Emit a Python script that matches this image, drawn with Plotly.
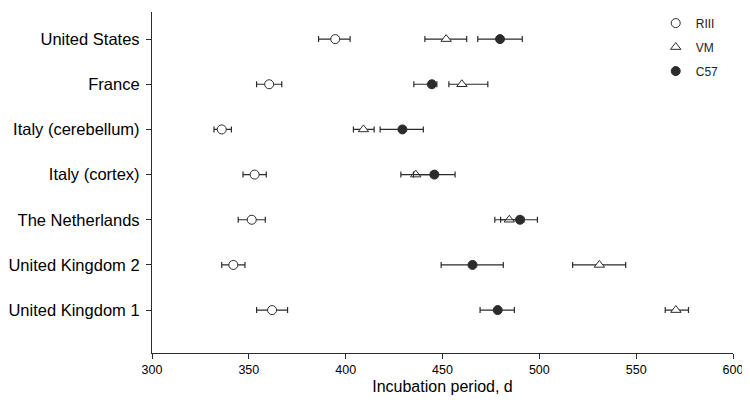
import plotly.graph_objects as go

# rows from bottom to top
countries = ['United Kingdom 1', 'United Kingdom 2', 'The Netherlands', 'Italy (cortex)',
             'Italy (cerebellum)', 'France', 'United States']
row_pos = [1, 2, 3, 4, 5, 6, 7]

riii_mean = [362, 342, 351.5, 353, 336, 360.5, 394.6]
riii_low = [354, 336, 344.5, 347, 332, 354, 386.0]
riii_high = [370, 348, 358.5, 359, 341, 367, 402.3]

vm_mean = [570.5, 531, 484.5, 436.2, 409.2, 460, 451.9]
vm_low = [565, 517.2, 477, 428.5, 404, 453.3, 440.9]
vm_high = [577, 544.6, 492, 444, 414.7, 473.4, 462.5]

c57_mean = [478.5, 465.5, 490, 445.8, 429.3, 444.5, 479.7]
c57_low = [469.4, 449.3, 480, 435, 417.8, 435.2, 468.2]
c57_high = [487.1, 481.4, 499, 456.5, 440.1, 447.1, 491.2]

x_ticks = [300, 350, 400, 450, 500, 550, 600]

ink = '#2b2b2b'
font_family = 'Liberation Sans, Arial, sans-serif'


# ----------------------------------------------
def strain_trace(name, mean, low, high, symbol, fill):
    return go.Scatter(
        x=mean,
        y=row_pos,
        mode='markers',
        name=name,
        legendgroup=name,
        marker=dict(symbol=symbol, size=9, color=fill, line=dict(color=ink, width=1)),
        error_x=dict(
            type='data',
            symmetric=False,
            array=[h - m for h, m in zip(high, mean)],
            arrayminus=[m - l for m, l in zip(mean, low)],
            color=ink,
            thickness=1.2,
            width=3),
    )


fig = go.Figure()
fig.add_trace(strain_trace('RIII', riii_mean, riii_low, riii_high, 'circle', 'white'))
fig.add_trace(strain_trace('VM', vm_mean, vm_low, vm_high, 'triangle-up', 'white'))
fig.add_trace(strain_trace('C57', c57_mean, c57_low, c57_high, 'circle', ink))

# the page body has an 8px margin, so the figure is a bit smaller than the window
fig.update_layout(
    width=742,
    height=406,
    margin=dict(l=144, r=17, t=4, b=61, autoexpand=False),
    plot_bgcolor='white',
    paper_bgcolor='white',
    font=dict(family=font_family, color='black'),
    showlegend=True,
    legend=dict(
        x=0.867, y=1.01, xanchor='left', yanchor='top',
        bgcolor='rgba(0,0,0,0)',
        font=dict(size=12, color='#222'),
        itemwidth=30,
        tracegroupgap=5),
    xaxis=dict(
        range=[300, 600],
        tickvals=x_ticks,
        ticks='outside', ticklen=5, tickcolor=ink,
        showline=True, linecolor=ink, linewidth=1.2,
        showgrid=False, zeroline=False, automargin=False,
        tickfont=dict(size=12.5),
        title=dict(text='Incubation period, d', font=dict(size=16), standoff=4)),
    yaxis=dict(
        range=[0.05, 7.6],
        tickvals=row_pos,
        ticktext=countries,
        ticks='outside', ticklen=5, tickcolor=ink,
        ticklabelstandoff=3,
        showline=True, linecolor=ink, linewidth=1.2,
        showgrid=False, zeroline=False, automargin=False,
        tickfont=dict(size=16.5)),
)

fig.write_html("out.html")
